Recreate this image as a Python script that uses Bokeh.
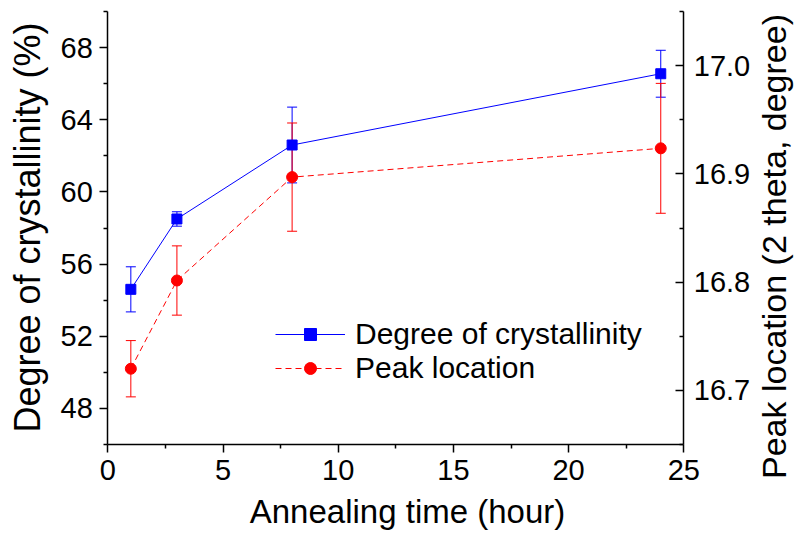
import math
from bokeh.plotting import figure
from bokeh.models import (Range1d, LinearAxis, FixedTicker, Whisker, ColumnDataSource,
                          Legend, LegendItem, TeeHead, Label, PrintfTickFormatter)
from bokeh.embed import file_html
from bokeh.resources import INLINE

# ---- data ----
time_h = [1, 3, 8, 24]
crystallinity = [54.6, 58.5, 62.6, 66.55]
crystallinity_err = [1.25, 0.4, 2.1, 1.3]
peak_location = [16.720, 16.8015, 16.897, 16.9236]
peak_err = [0.026, 0.032, 0.05, 0.06]

x_lim = (0, 25)
left_lim = (46, 70)
right_lim = (16.65, 17.05)
x_ticks = [0, 5, 10, 15, 20, 25]
x_minor = [2.5, 7.5, 12.5, 17.5, 22.5]
left_ticks = [48, 52, 56, 60, 64, 68]
left_minor = [46, 50, 54, 58, 62, 66, 70]
right_ticks = [16.7, 16.8, 16.9, 17.0]
right_minor = [16.65, 16.75, 16.85, 16.95, 17.05]

x_title = "Annealing time (hour)"
left_title = "Degree of crystallinity (%)"
right_title = "Peak location (2 theta, degree)"
label_cryst = "Degree of crystallinity"
label_peak = "Peak location"

FONT = "Liberation Sans"
BLUE = "#0000ff"
RED = "#ff0000"

# ---- layout geometry (pixels) ----
W, H = 799, 534
AX_L, AX_R, AX_T, AX_B = 107.3, 683.3, 11.0, 444.0

sx = (AX_R - AX_L) / (x_lim[1] - x_lim[0])
sy = (AX_B - AX_T) / (left_lim[1] - left_lim[0])
sr = (AX_B - AX_T) / (right_lim[1] - right_lim[0])

x_range = Range1d(x_lim[0] - AX_L / sx, x_lim[1] + (W - AX_R) / sx)
y_range = Range1d(left_lim[0] - (H - AX_B) / sy, left_lim[1] + AX_T / sy)
r_range = Range1d(right_lim[0] - (H - AX_B) / sr, right_lim[1] + AX_T / sr)

def px_x(px):
    return x_lim[0] + (px - AX_L) / sx

def px_y(py):
    return left_lim[0] + (AX_B - py) / sy

p = figure(width=W, height=H, output_backend="svg", toolbar_location=None,
           x_range=x_range, y_range=y_range, title=None,
           min_border=0, min_border_left=0, min_border_right=0,
           min_border_top=0, min_border_bottom=0,
           x_axis_location="below", y_axis_location="left")
p.extra_y_ranges = {"right": r_range}
p.outline_line_color = None
p.xgrid.visible = False
p.ygrid.visible = False
p.background_fill_color = "white"
p.border_fill_color = "white"

def style_axis(ax, ticks, minor, inward=False):
    ax.ticker = FixedTicker(ticks=ticks, minor_ticks=minor)
    ax.axis_line_color = "black"
    ax.axis_line_width = 1.5
    ax.major_tick_line_color = "black"
    ax.major_tick_line_width = 1.5
    ax.minor_tick_line_color = "black"
    ax.minor_tick_line_width = 1.5
    if inward:
        ax.major_tick_in = 8
        ax.major_tick_out = 0
        ax.minor_tick_in = 4
        ax.minor_tick_out = 0
    else:
        ax.major_tick_in = 0
        ax.major_tick_out = 8
        ax.minor_tick_in = 0
        ax.minor_tick_out = 4
    ax.major_label_text_font = FONT
    ax.major_label_text_font_size = "29px"
    ax.major_label_text_color = "black"
    ax.axis_label = None

xa = p.xaxis[0]
style_axis(xa, x_ticks, x_minor)
xa.fixed_location = left_lim[0]
xa.bounds = x_lim
xa.major_label_standoff = 7

ya = p.yaxis[0]
style_axis(ya, left_ticks, left_minor)
ya.fixed_location = x_lim[0]
ya.bounds = left_lim
ya.major_label_standoff = 7

raxis = LinearAxis(y_range_name="right")
style_axis(raxis, right_ticks, right_minor, inward=True)
raxis.formatter = PrintfTickFormatter(format="%.1f")
raxis.fixed_location = x_lim[1]
raxis.bounds = right_lim
raxis.major_label_standoff = 10
p.add_layout(raxis, "right")

# ---- series ----
src_c = ColumnDataSource(dict(
    x=time_h, y=crystallinity,
    upper=[v + e for v, e in zip(crystallinity, crystallinity_err)],
    lower=[v - e for v, e in zip(crystallinity, crystallinity_err)]))
src_p = ColumnDataSource(dict(
    x=time_h, y=peak_location,
    upper=[v + e for v, e in zip(peak_location, peak_err)],
    lower=[v - e for v, e in zip(peak_location, peak_err)]))

w1 = Whisker(source=src_c, base="x", upper="upper", lower="lower",
             line_color=BLUE, line_width=1,
             upper_head=TeeHead(size=10, line_color=BLUE, line_width=1),
             lower_head=TeeHead(size=10, line_color=BLUE, line_width=1))
p.add_layout(w1)
w2 = Whisker(source=src_p, base="x", upper="upper", lower="lower",
             line_color=RED, line_width=1, y_range_name="right",
             upper_head=TeeHead(size=10, line_color=RED, line_width=1),
             lower_head=TeeHead(size=10, line_color=RED, line_width=1))
p.add_layout(w2)

l1 = p.line("x", "y", source=src_c, line_color=BLUE, line_width=1)
s1 = p.scatter("x", "y", source=src_c, marker="square", size=10,
               fill_color=BLUE, line_color=BLUE)
l2 = p.line("x", "y", source=src_p, line_color=RED, line_width=1,
            line_dash="6 4", y_range_name="right")
s2 = p.scatter("x", "y", source=src_p, marker="circle", size=11,
               fill_color=RED, line_color=RED, y_range_name="right")

legend = Legend(items=[LegendItem(label=label_cryst, renderers=[l1, s1]),
                       LegendItem(label=label_peak, renderers=[l2, s2])],
                location=(275, H - 385), glyph_width=70, glyph_height=30,
                label_height=30, spacing=0, padding=0, margin=0,
                border_line_color=None, background_fill_alpha=0,
                label_text_font=FONT, label_text_font_size="30px",
                label_text_color="black", label_standoff=10)
p.add_layout(legend)

# ---- titles ----
p.add_layout(Label(x=px_x(407), y=px_y(511), text=x_title, text_font=FONT,
                   text_font_size="33px", text_align="center",
                   text_baseline="alphabetic", text_color="black"))
p.add_layout(Label(x=px_x(27), y=px_y(227), text=left_title, text_font=FONT,
                   text_font_size="36px", text_align="center", angle=math.pi / 2,
                   text_baseline="alphabetic", text_color="black"))
p.add_layout(Label(x=px_x(773), y=px_y(246), text=right_title, text_font=FONT,
                   text_font_size="34px", text_align="center", angle=math.pi / 2,
                   text_baseline="alphabetic", text_color="black"))

open("out.html", "w").write(file_html(p, INLINE))
